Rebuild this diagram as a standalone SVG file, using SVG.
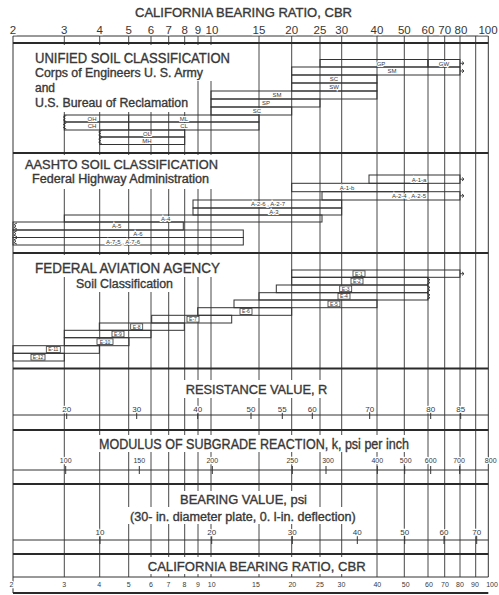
<svg xmlns="http://www.w3.org/2000/svg" width="499" height="595" viewBox="0 0 499 595">
<style>
text{font-family:"Liberation Sans",Arial,sans-serif;fill:#383838}
.hd{stroke:#383838;stroke-width:0.35px}
.num{text-anchor:middle;stroke:#fff;stroke-width:2.5px;paint-order:stroke}
.lb{font-size:6px;text-anchor:middle;stroke:#fff;stroke-width:2px;paint-order:stroke}
.el{font-size:5px;text-anchor:middle}
.g{stroke:#333;stroke-width:0.9;fill:none}
.t{stroke:#2a2a2a;stroke-width:2;fill:none}
.th{stroke:#333;stroke-width:1;fill:none}
.bar{fill:none;stroke:#333;stroke-width:1}
.box{fill:#fff;stroke:#333;stroke-width:0.8}
.m{fill:#fff}
</style>
<defs>
<path id="arr" d="M0,0 h4 M2,-1.8 L4,0 L2,1.8" fill="none" stroke="#333" stroke-width="0.9"/>
<path id="brkL" d="M2,-3 L-1,-1.5 L1,0 L-1,1.5 L2,3" fill="none" stroke="#333" stroke-width="0.9"/>
<path id="brkR" d="M-1,-3 L2,-1.5 L0,0 L2,1.5 L-1,3" fill="none" stroke="#333" stroke-width="0.9"/>
</defs>
<rect width="499" height="595" fill="#fff"/>

<g id="grid">
<path class="g" d="M64.3,36V577 M99.7,36V577 M128.7,36V577 M151,36V577 M168.7,36V577 M184.7,36V577 M198,36V577 M211,36V577 M259,36V577 M291.7,36V577 M320,36V577 M341.7,36V577 M377,36V577 M404.3,36V577 M428,36V577 M444.7,36V577 M460,36V577 M475.7,36V577"/>
<path class="th" d="M13,36V593 M488.3,36V577"/>
<path class="th" d="M13,36H488.3 M13,415H488.3 M13,470H488.3 M13,540H488.3 M13,577H488.3"/>
<path class="t" d="M13,43H488.3 M13,153H488.3 M13,253H488.3 M13,368.5H488.3 M13,430H488.3 M13,484H488.3 M13,554H488.3 M13,593H488.3"/>
<path class="th" d="M66.7,412V419 M136.7,412V419 M197.7,412V419 M251,412V419 M282.3,412V419 M312.3,412V419 M369.7,412V419 M430.7,412V419 M460.7,412V419"/>
<path class="th" d="M65.7,466V474 M139.3,466V474 M212.3,466V474 M292.3,466V474 M326,466V474 M377.3,466V474 M404.7,466V474 M430.7,466V474 M459.7,466V474"/>
<path class="th" d="M100,536V544 M211.7,536V544 M292.3,536V544 M357.3,536V544 M404.7,536V544 M444,536V544 M476.7,536V544"/>
</g>

<g id="masks">
<rect class="m" x="25" y="45" width="215" height="22"/>
<rect class="m" x="25" y="67" width="190" height="14"/>
<rect class="m" x="25" y="81" width="168" height="31"/>
<rect class="m" x="20" y="155" width="205" height="17"/>
<rect class="m" x="25" y="172" width="197" height="17"/>
<rect class="m" x="28" y="255" width="200" height="22"/>
<rect class="m" x="70" y="277" width="112" height="15"/>
<rect class="m" x="180" y="380" width="153" height="18"/>
<rect class="m" x="94" y="435" width="320" height="17"/>
<rect class="m" x="175" y="491" width="137" height="16"/>
<rect class="m" x="125" y="507" width="235" height="17"/>
<rect class="m" x="143" y="557" width="227" height="17"/>
</g>

<g id="top-axis">
<text class="hd" x="135" y="16.7" font-size="13" textLength="217" lengthAdjust="spacingAndGlyphs">CALIFORNIA BEARING RATIO, CBR</text>
<g font-size="11.5" class="num">
<text x="13" y="34.3">2</text><text x="64.3" y="34.3">3</text><text x="99.7" y="34.3">4</text><text x="128.7" y="34.3">5</text><text x="151" y="34.3">6</text><text x="168.7" y="34.3">7</text><text x="184.7" y="34.3">8</text><text x="198" y="34.3">9</text><text x="212" y="34.3">10</text><text x="259" y="34.3">15</text><text x="291.7" y="34.3">20</text><text x="320" y="34.3">25</text><text x="341.7" y="34.3">30</text><text x="377" y="34.3">40</text><text x="404.3" y="34.3">50</text><text x="428" y="34.3">60</text><text x="444.7" y="34.3">70</text><text x="461" y="34.3">80</text><text x="488" y="34.3">100</text>
</g>
</g>

<g id="unified">
<text class="hd" x="35" y="63.3" font-size="14" textLength="195" lengthAdjust="spacingAndGlyphs">UNIFIED SOIL CLASSIFICATION</text>
<text class="hd" x="35" y="76.5" font-size="12" textLength="168" lengthAdjust="spacingAndGlyphs">Corps of Engineers U. S. Army</text>
<text class="hd" x="35" y="91.5" font-size="12">and</text>
<text class="hd" x="35" y="107" font-size="12" textLength="153" lengthAdjust="spacingAndGlyphs">U.S. Bureau of Reclamation</text>
<rect class="bar" x="320" y="59.5" width="108" height="7.5"/>
<rect class="bar" x="428" y="59.5" width="32" height="7.5"/>
<use href="#arr" x="460" y="63.3"/>
<rect class="bar" x="291.7" y="67" width="168.3" height="8"/>
<use href="#arr" x="460" y="71"/>
<rect class="bar" x="291.7" y="75" width="85.3" height="8"/>
<rect class="bar" x="291.7" y="83" width="85.3" height="8"/>
<rect class="bar" x="211" y="91" width="166" height="8"/>
<rect class="bar" x="211" y="99" width="109" height="8"/>
<rect class="bar" x="211" y="107" width="80.7" height="8"/>
<rect class="bar" x="64.3" y="115" width="194.7" height="7"/>
<rect class="bar" x="64.3" y="122" width="194.7" height="8"/>
<path class="th" d="M128.7,115V130"/>
<use href="#brkL" x="64.3" y="118.5"/>
<use href="#brkL" x="64.3" y="126"/>
<rect class="bar" x="99.7" y="130" width="85" height="7"/>
<rect class="bar" x="99.7" y="137" width="85" height="7.5"/>
<use href="#brkL" x="99.7" y="133.5"/>
<use href="#brkL" x="99.7" y="140.7"/>
<text class="lb" x="381" y="65.5">GP</text>
<text class="lb" x="444" y="65.5">GW</text>
<text class="lb" x="392" y="73.3">SM</text>
<text class="lb" x="334" y="81.3">SC</text>
<text class="lb" x="334" y="89.3">SW</text>
<text class="lb" x="277" y="97.3">SM</text>
<text class="lb" x="266" y="105.3">SP</text>
<text class="lb" x="257" y="113.3">SC</text>
<text class="lb" x="92" y="120.7">OH</text>
<text class="lb" x="184" y="120.7">ML</text>
<text class="lb" x="92" y="128.3">CH</text>
<text class="lb" x="184" y="128.3">CL</text>
<text class="lb" x="147" y="135.7">OL</text>
<text class="lb" x="147" y="143">MH</text>
</g>

<g id="aashto">
<text class="hd" x="25" y="169.3" font-size="13" textLength="193" lengthAdjust="spacingAndGlyphs">AASHTO SOIL CLASSIFICATION</text>
<text class="hd" x="32" y="182.7" font-size="12" textLength="177" lengthAdjust="spacingAndGlyphs">Federal Highway Administration</text>
<rect class="bar" x="369" y="175" width="91" height="8.3"/>
<use href="#arr" x="460" y="179.2"/>
<rect class="bar" x="291.7" y="183.3" width="136.3" height="8.4"/>
<rect class="bar" x="322" y="191.7" width="138" height="8.3"/>
<use href="#arr" x="460" y="195.8"/>
<rect class="bar" x="193" y="200" width="148.7" height="8"/>
<rect class="bar" x="193" y="208" width="148.7" height="7"/>
<rect class="bar" x="64.3" y="215" width="257.7" height="7"/>
<rect class="bar" x="13" y="222" width="170.3" height="8"/>
<rect class="bar" x="13" y="230" width="230.3" height="7.5"/>
<rect class="bar" x="13" y="237.5" width="230.3" height="7.5"/>
<use href="#brkL" x="15" y="226"/>
<use href="#brkL" x="15" y="233.7"/>
<use href="#brkL" x="15" y="241.2"/>
<text class="lb" x="419" y="181.5">A-1-a</text>
<text class="lb" x="347" y="189.8">A-1-b</text>
<text class="lb" x="409" y="198">A-2-4 , A-2-5</text>
<text class="lb" x="268" y="206.2">A-2-6 , A-2-7</text>
<text class="lb" x="274" y="213.7">A-3</text>
<text class="lb" x="165.7" y="220.7">A-4</text>
<text class="lb" x="116.7" y="228.2">A-5</text>
<text class="lb" x="138" y="236">A-6</text>
<text class="lb" x="123" y="243.5">A-7-5 , A-7-6</text>
</g>

<g id="faa">
<text class="hd" x="35" y="272.7" font-size="14" textLength="185" lengthAdjust="spacingAndGlyphs">FEDERAL AVIATION AGENCY</text>
<text class="hd" x="76" y="288.3" font-size="12.5" textLength="97" lengthAdjust="spacingAndGlyphs">Soil Classification</text>
<rect class="bar" x="291.7" y="270" width="168.3" height="7.3"/>
<use href="#arr" x="460" y="273.7"/>
<rect class="bar" x="291.7" y="277.3" width="136.3" height="7.7"/>
<rect class="bar" x="276.3" y="285" width="151.7" height="7.7"/>
<rect class="bar" x="259" y="292.7" width="169" height="7.3"/>
<use href="#brkR" x="428" y="281.2"/>
<use href="#brkR" x="428" y="288.8"/>
<use href="#brkR" x="428" y="296.3"/>
<rect class="bar" x="234" y="300" width="143" height="7.7"/>
<rect class="bar" x="197.7" y="307.7" width="94" height="7.6"/>
<rect class="bar" x="151.7" y="315.3" width="80" height="7.7"/>
<rect class="bar" x="99.3" y="323" width="85" height="7.3"/>
<rect class="bar" x="64.3" y="330.3" width="86.7" height="7.4"/>
<rect class="bar" x="64.3" y="337.7" width="64.7" height="8"/>
<rect class="bar" x="13" y="345.7" width="86.3" height="7.6"/>
<rect class="bar" x="13" y="353.3" width="51.3" height="7.7"/>
<rect class="box" x="353" y="270.8" width="12" height="5.8"/><text class="el" x="359" y="275.5">E-1</text>
<rect class="box" x="351" y="278.2" width="12" height="5.8"/><text class="el" x="357" y="282.9">E-2</text>
<rect class="box" x="339.7" y="285.9" width="12" height="5.8"/><text class="el" x="345.7" y="290.6">E-3</text>
<rect class="box" x="338" y="293.4" width="12" height="5.8"/><text class="el" x="344" y="298.1">E-4</text>
<rect class="box" x="328" y="301" width="12" height="5.8"/><text class="el" x="334" y="305.7">E-5</text>
<rect class="box" x="240" y="308.6" width="12" height="5.8"/><text class="el" x="246" y="313.3">E-6</text>
<rect class="box" x="187" y="316.3" width="12" height="5.8"/><text class="el" x="193" y="321">E-7</text>
<rect class="box" x="130.7" y="323.8" width="12" height="5.8"/><text class="el" x="136.7" y="328.5">E-8</text>
<rect class="box" x="112" y="331.1" width="12" height="5.8"/><text class="el" x="118" y="335.8">E-9</text>
<rect class="box" x="97" y="338.8" width="16" height="5.8"/><text class="el" x="105" y="343.5">E-10</text>
<rect class="box" x="46.3" y="346.6" width="14" height="5.8"/><text class="el" x="53.3" y="351.3">E-11</text>
<rect class="box" x="31" y="354.3" width="14" height="5.8"/><text class="el" x="38" y="359">E-12</text>
</g>

<g id="resistance">
<text class="hd" x="185.7" y="394.3" font-size="13.5" textLength="141.6" lengthAdjust="spacingAndGlyphs">RESISTANCE VALUE, R</text>
<g font-size="8" class="num">
<text x="66.7" y="411.7">20</text><text x="136.7" y="411.7">30</text><text x="197.7" y="411.7">40</text><text x="251" y="411.7">50</text><text x="282.3" y="411.7">55</text><text x="312.3" y="411.7">60</text><text x="369.7" y="411.7">70</text><text x="430.7" y="411.7">80</text><text x="460.7" y="411.7">85</text>
</g>
</g>

<g id="modulus">
<text class="hd" x="99" y="449" font-size="14" textLength="310" lengthAdjust="spacingAndGlyphs">MODULUS OF SUBGRADE REACTION, k, psi per inch</text>
<g font-size="7" class="num">
<text x="65.7" y="463">100</text><text x="139.3" y="463">150</text><text x="212.3" y="463">200</text><text x="292.3" y="463">250</text><text x="328" y="463">300</text><text x="377.3" y="463">400</text><text x="405.7" y="463">500</text><text x="430.7" y="463">600</text><text x="459" y="463">700</text><text x="490.7" y="463">800</text>
</g>
</g>

<g id="bearing">
<text class="hd" x="180" y="504" font-size="13" textLength="127" lengthAdjust="spacingAndGlyphs">BEARING VALUE, psi</text>
<text class="hd" x="130" y="520.5" font-size="12" textLength="225.7" lengthAdjust="spacingAndGlyphs">(30- in. diameter plate, 0. l-in. deflection)</text>
<g font-size="8" class="num">
<text x="100" y="535">10</text><text x="211.7" y="535">20</text><text x="292.3" y="535">30</text><text x="357.3" y="535">40</text><text x="404.7" y="535">50</text><text x="444" y="535">60</text><text x="476.7" y="535">70</text>
</g>
</g>

<g id="bottom-axis">
<text class="hd" x="147.7" y="570.7" font-size="13.5" textLength="218" lengthAdjust="spacingAndGlyphs">CALIFORNIA BEARING RATIO, CBR</text>
<g font-size="7" class="num">
<text x="11.5" y="587.3">2</text><text x="64.3" y="587.3">3</text><text x="99.3" y="587.3">4</text><text x="128.7" y="587.3">5</text><text x="151" y="587.3">6</text><text x="168.5" y="587.3">7</text><text x="184.5" y="587.3">8</text><text x="198" y="587.3">9</text><text x="211.7" y="587.3">10</text><text x="256" y="587.3">15</text><text x="292.3" y="587.3">20</text><text x="320" y="587.3">25</text><text x="341.5" y="587.3">30</text><text x="377.3" y="587.3">40</text><text x="405.7" y="587.3">50</text><text x="429" y="587.3">60</text><text x="445" y="587.3">70</text><text x="460" y="587.3">80</text><text x="475" y="587.3">90</text><text x="492" y="587.3">100</text>
</g>
</g>
</svg>
